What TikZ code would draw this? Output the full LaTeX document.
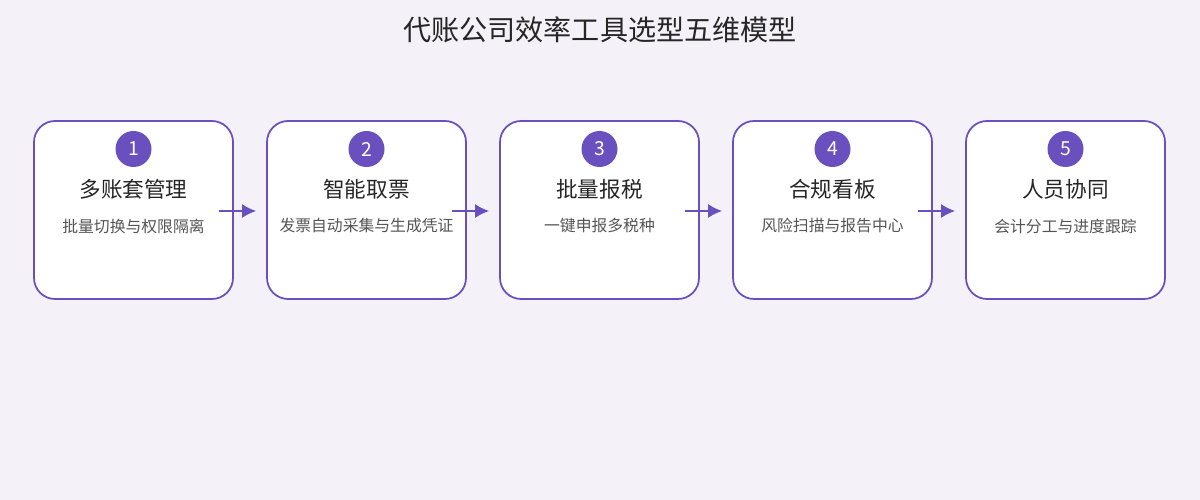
\documentclass[tikz,border=0pt]{standalone}
\usepackage{fontspec}
\setmainfont{Noto Sans CJK SC}
\usepackage{tikz}
\usetikzlibrary{positioning, arrows.meta}
\definecolor{bgcol}{HTML}{F4F2F8}
\definecolor{violet}{HTML}{6A4FBF}
\definecolor{subgray}{HTML}{555555}
\newlength{\unitpx}\setlength{\unitpx}{0.02cm}
\tikzset{
  stage/.style={draw=violet, line width=1pt, fill=white, rounded corners=12pt, minimum width=199\unitpx, minimum height=178\unitpx},
  badge/.style={circle, fill=violet, text=white, minimum size=36\unitpx, inner sep=0pt, font=\fontsize{11}{12}\selectfont},
  head/.style={font=\fontsize{12.3}{14}\selectfont, text=black!85},
  desc/.style={font=\fontsize{9}{10}\selectfont, text=subgray},
  link/.style={-{Latex[length=8pt,width=8pt]}, violet, line width=1pt}
}
\begin{document}
\begin{tikzpicture}[x=0.02cm, y=0.02cm]
\fill[bgcol] (0,0) rectangle (1200,500);
\useasboundingbox (0,0) rectangle (1200,500);
\node[font=\fontsize{16}{18}\selectfont, text=black!85] (title) at (600,470) {代账公司效率工具选型五维模型};
\foreach \i/\h/\d in {1/多账套管理/批量切换与权限隔离, 2/智能取票/发票自动采集与生成凭证, 3/批量报税/一键申报多税种, 4/合规看板/风险扫描与报告中心, 5/人员协同/会计分工与进度跟踪}{
  \node[stage] (box\i) at ({133.5+233*(\i-1)},290) {};
  \node[badge] (num\i) at ({133.5+233*(\i-1)},351) {\i};
  \node[head] (head\i) at ({133.5+233*(\i-1)},311) {\h};
  \node[desc] (desc\i) at ({133.5+233*(\i-1)},274) {\d};
}
\foreach \i [evaluate=\i as \j using int(\i+1)] in {1,...,4}{
  \coordinate (from\i) at ([xshift=-15\unitpx, yshift=-1\unitpx]box\i.east);
  \coordinate (to\i) at ([xshift=-10\unitpx, yshift=-1\unitpx]box\j.west);
  \draw[link] (from\i) -- (to\i);
}
\end{tikzpicture}
\end{document}
